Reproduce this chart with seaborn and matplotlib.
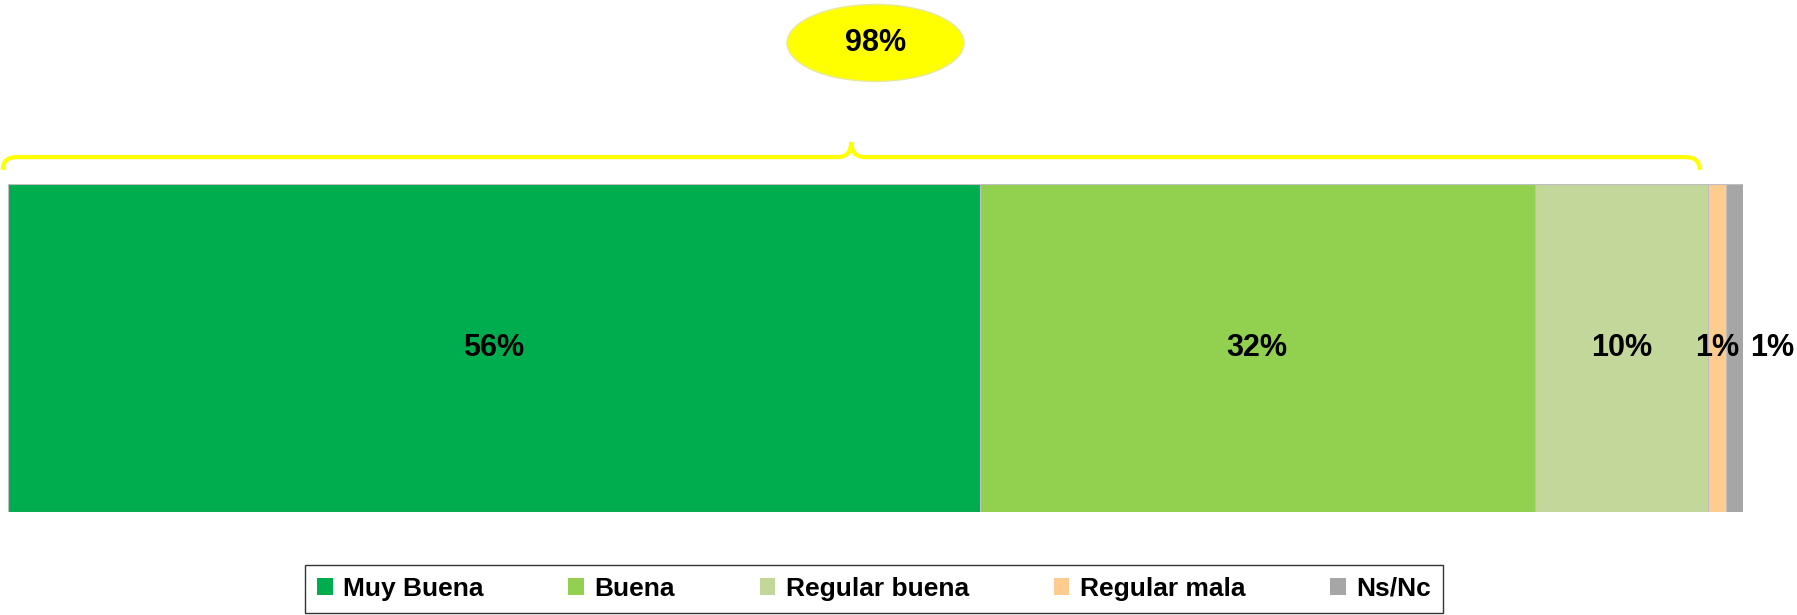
import numpy as np
import matplotlib
matplotlib.use("Agg")
import matplotlib.pyplot as plt
import seaborn as sns
from matplotlib.patches import Ellipse, PathPatch, Patch
from matplotlib.path import Path
from matplotlib.transforms import blended_transform_factory

# data
categories = ["Muy Buena", "Buena", "Regular buena", "Regular mala", "Ns/Nc"]
values = [56, 32, 10, 1, 1]
colors = ["#00AD4E", "#92D050", "#C4D79B", "#FFCC90", "#A6A6A6"]
bracket_label = "98%"
bracket_cats = 3   # first three categories are grouped by the brace

sns.set_style("white")
plt.rcParams['font.family'] = ['Liberation Sans', 'DejaVu Sans']
plt.rcParams['text.color'] = 'black'

fig = plt.figure(figsize=(17.97, 6.15), dpi=100)
ax = fig.add_axes([8 / 1797, 1 - 512 / 615, 1735 / 1797, 328 / 615])

cum = np.cumsum(values)

# stacked bar: draw cumulative totals from the largest down
for i in range(len(values) - 1, -1, -1):
    sns.barplot(x=[cum[i]], y=[""], orient="h", color=colors[i],
                width=1.0, saturation=1, edgecolor="#BFBFBF",
                linewidth=0.8, ax=ax)

ax.set_xlim(0, cum[-1])
ax.set_ylim(0.5, -0.5)
ax.axis("off")

# value labels
for i, v in enumerate(values):
    xc = cum[i] - v / 2
    dx = 27 if i == len(values) - 1 else 0
    ax.annotate(f"{v}%", (xc, 0), xytext=(dx, 0), textcoords="offset points",
                ha="center", va="center", fontsize=22, fontweight="bold",
                color="black", annotation_clip=False)

# brace over the first three categories
tr = blended_transform_factory(ax.transData, ax.transAxes)
x0, x1 = -0.3, cum[bracket_cats - 1] - 0.5
xm = (x0 + x1) / 2
y_end, y_h, y_pk = 1.043, 1.082, 1.128
r = 0.8
verts = [(x0, y_end), (x0, y_h), (x0 + r, y_h),
         (xm - r, y_h), (xm, y_h), (xm, y_pk),
         (xm, y_h), (xm + r, y_h),
         (x1 - r, y_h), (x1, y_h), (x1, y_end)]
codes = [Path.MOVETO, Path.CURVE3, Path.CURVE3,
         Path.LINETO, Path.CURVE3, Path.CURVE3,
         Path.CURVE3, Path.CURVE3,
         Path.LINETO, Path.CURVE3, Path.CURVE3]
ax.add_patch(PathPatch(Path(verts, codes), facecolor="none", edgecolor="#FFFF00",
                       linewidth=3, transform=tr, clip_on=False))

# yellow bubble with the grouped total
bx = xm + 1.4
ell = Ellipse((bx, 1.43), 10.2, 0.235, transform=tr, facecolor="#FFFF00",
              edgecolor="#E8E8A0", linewidth=1, clip_on=False)
ax.add_patch(ell)
ax.text(bx, 1.43, bracket_label, transform=tr, ha="center", va="center",
        fontsize=22, fontweight="bold", color="black")

# legend
handles = [Patch(facecolor=c, edgecolor="none") for c in colors]
leg = fig.legend(handles, categories, loc="center", ncol=5,
                 bbox_to_anchor=(874 / 1797, 1 - 589 / 615),
                 frameon=True, fancybox=False, edgecolor="black",
                 handlelength=0.6, handleheight=0.6, handletextpad=0.4,
                 columnspacing=3.2, borderpad=0.45,
                 prop={"size": 19, "weight": "bold"})
leg.get_frame().set_linewidth(1.0)
for t in leg.get_texts():
    t.set_color("black")

fig.savefig("out.png", dpi=100)
